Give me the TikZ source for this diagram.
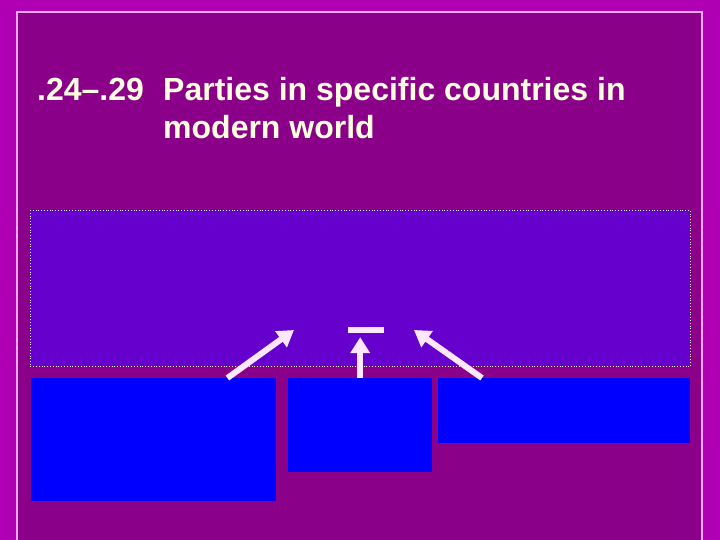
\documentclass[tikz,border=0pt]{standalone}
\usepackage{fontspec}
\setmainfont{Liberation Sans}
\usetikzlibrary{arrows.meta}
\definecolor{outerpink}{HTML}{B000B4}
\definecolor{slidebg}{HTML}{8B0088}
\definecolor{framepink}{HTML}{FFA8FF}
\definecolor{areaviolet}{HTML}{6600CC}
\definecolor{boxblue}{HTML}{0000FF}
\definecolor{titlecream}{HTML}{FFFFE0}
\definecolor{arrowpink}{HTML}{FFE8FF}
\tikzstyle{area} = [rectangle, draw=white, dotted, line width=0.8pt, fill=areaviolet, minimum width=660pt, minimum height=156pt, anchor=north west, inner sep=0pt]
\tikzstyle{bluebox} = [rectangle, fill=boxblue, anchor=north west, inner sep=0pt]
\tikzstyle{titletext} = [text=titlecream, font=\bfseries\fontsize{32}{38}\selectfont, anchor=base west, inner sep=0pt, align=left]
\tikzstyle{arrow} = [draw=arrowpink, line width=6pt, -{Triangle[length=16pt,width=19pt]}]

\begin{document}
\begin{tikzpicture}[x=1pt,y=-1pt]

    \useasboundingbox[fill=outerpink] (0,0) rectangle (720,540);
    \draw[draw=framepink, line width=1.5pt, fill=slidebg] (17,12) rectangle (702,545);

    \node (num) [titletext] at (37,101) {.24--.29};
    \node (title) [titletext] at (163,139) {Parties in specific countries in\\modern world};

    \node (area) [area] at (30,210) {};
    \node (bar) [rectangle, fill=arrowpink, minimum width=36pt, minimum height=6pt, inner sep=0pt] at (366,330) {};
    \coordinate (lefttip) at (294,330);
    \coordinate (righttip) at (414,330);

    \node (leftbox) [bluebox, minimum width=245pt, minimum height=123pt] at (31,378) {};
    \node (midbox) [bluebox, minimum width=144pt, minimum height=94pt] at (288,378) {};
    \node (rightbox) [bluebox, minimum width=252pt, minimum height=65pt] at (438,378) {};

    \draw [arrow] ([xshift=-49pt]leftbox.north east) -- (lefttip);
    \draw [arrow, shorten >=4pt] (midbox.north) -- (midbox.north |- bar.south);
    \draw [arrow] ([xshift=44pt]rightbox.north west) -- (righttip);
\end{tikzpicture}
\end{document}
